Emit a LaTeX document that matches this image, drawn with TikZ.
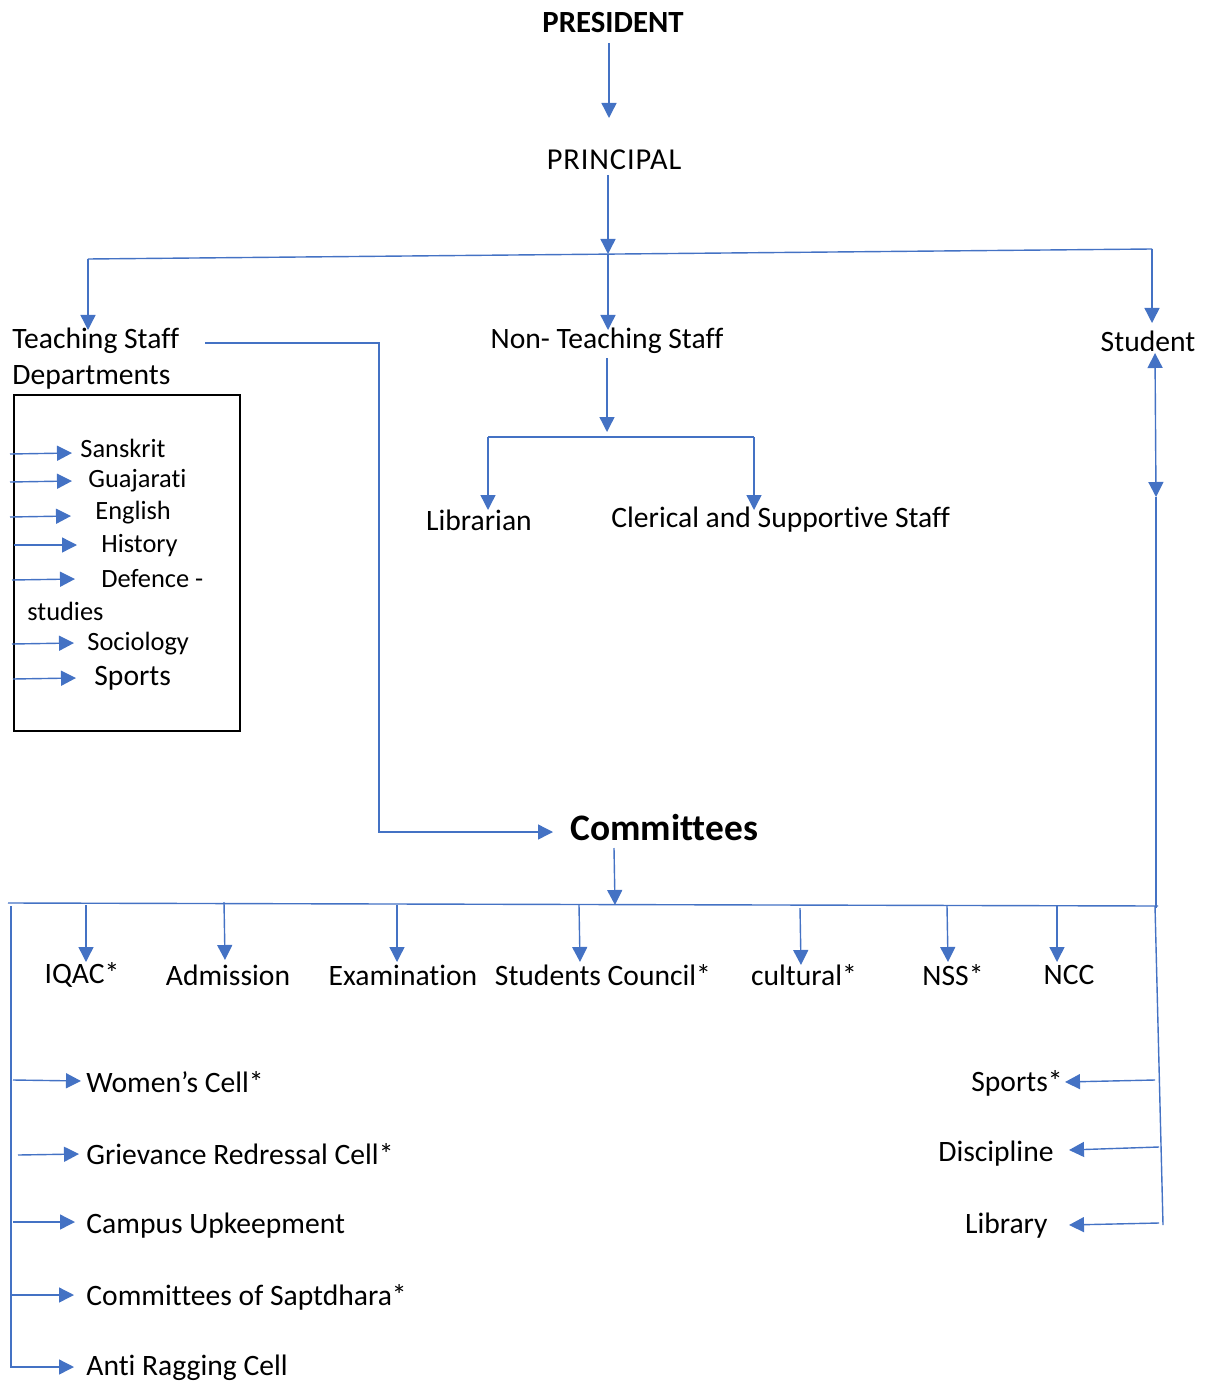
\documentclass[tikz,border=0pt]{standalone}
\usepackage{fontspec}
\setmainfont{Carlito}[Ligatures={NoCommon}]
\usetikzlibrary{arrows.meta}
\definecolor{lblue}{HTML}{4472C4}
\tikzset{
  conn/.style={draw=lblue, line width=0.7pt},
  arr/.style={conn, -{Triangle[length=7.5pt,width=7.5pt]}},
  darr/.style={conn, {Triangle[length=7.5pt,width=7.5pt]}-{Triangle[length=7.5pt,width=7.5pt]}},
  lbl/.style={inner sep=0pt, text=black, font=\fontsize{14.8}{17}\selectfont},
  dept/.style={inner sep=0pt, text=black, font=\fontsize{13.2}{16}\selectfont},
}
\begin{document}
\begin{tikzpicture}[x=0.5pt,y=-0.5pt]
\useasboundingbox (0,0) rectangle (1207,1385);

% ---------- top ----------
\node[lbl, font=\bfseries\fontsize{15.4}{17}\selectfont] (pres) at (613,23) {PRESIDENT};
\node[lbl, font=\fontsize{15.2}{17}\selectfont\addfontfeature{LetterSpace=3}] (prin) at (614,160) {PRINCIPAL};
\coordinate (presB) at (609,43);
\coordinate (prinT) at (609,118);
\draw[arr] (presB) -- (prinT);
\coordinate (prinB) at (608,175);
\coordinate (busT) at (608,254);
\draw[arr] (prinB) -- (busT);

\coordinate (busL) at (88,259);
\coordinate (busR) at (1152,249);
\draw[conn] (busL) -- (busR);

\node[lbl, anchor=west] (teach) at (12,341) {Teaching Staff};
\node[lbl, anchor=west] (deps) at (12,377) {Departments};
\node[lbl] (nonteach) at (607,341) {Non- Teaching Staff};
\node[lbl] (student) at (1148,341) {Student};

\coordinate (teachT) at (88,330);
\coordinate (nonT) at (608,330);
\coordinate (studT) at (1152,323);
\draw[arr] (busL) -- (teachT);
\draw[arr] (busT) -- (nonT);
\draw[arr] (busR) -- (studT);

% ---------- departments ----------
\node[draw=black, line width=1.1pt, inner sep=0pt, minimum width=113pt, minimum height=168pt, anchor=north west] (deptbox) at (13,394) {};

\node[dept, anchor=west] (d1) at (80,448) {Sanskrit};
\node[dept, anchor=west] (d2) at (88,481) {Guajarati};
\node[dept, anchor=west] (d3) at (95,513) {English};
\node[dept, anchor=west] (d4) at (101,546) {History};
\node[dept, anchor=west] (d5) at (101,579) {Defence -};
\node[dept, anchor=west] (d5b) at (27,611) {studies};
\node[dept, anchor=west] (d6) at (87,644) {Sociology};
\node[lbl, anchor=west] (d7) at (94,678) {Sports};

\draw[arr] (10,454) -- (72,453);
\draw[arr] (10,482) -- (72,481);
\draw[arr] (10,517) -- (71,516);
\draw[arr] (14,545) -- (77,545);
\draw[arr] (12,580) -- (75,579);
\draw[arr] (12,644) -- (74,643);
\draw[arr] (13,679) -- (76,678);

% ---------- non teaching ----------
\coordinate (ntB) at (607,358);
\coordinate (ntBus) at (607,437);
\coordinate (ntL) at (488,437);
\coordinate (ntR) at (754,437);
\draw[arr] (ntB) -- ([yshift=2.5pt]ntBus);
\draw[conn] (ntL) -- (ntR);
\node[lbl] (libr) at (479,520) {Librarian};
\node[lbl, anchor=west] (cler) at (611,520) {Clerical and Supportive Staff};
\draw[arr] (ntL) -- (488,510);
\draw[arr] (ntR) -- (754,510);

% ---------- student ----------
\coordinate (stB) at (1155,353);
\coordinate (stD) at (1156,497);
\coordinate (stBus) at (1156,908);
\draw[darr] (stB) -- (stD);
\draw[conn] (stD) -- (stBus);

% ---------- committees ----------
\coordinate (tsR) at (205,343);
\coordinate (elbow) at (379,832);
\coordinate (comL) at (553,832);
\draw[arr] (tsR) -| (elbow) -- (comL);
\node[inner sep=0pt, anchor=west, font=\bfseries\fontsize{18.7}{21}\selectfont] (comm) at (570,828) {Committees};
\coordinate (comB) at (614,848);
\coordinate (cbusL) at (8,903);
\coordinate (cbusR) at (1158,906);
\coordinate (cbusM) at (615,905);
\draw[arr] (comB) -- (cbusM);
\draw[conn] (cbusL) -- (cbusR);

\node[lbl] (c1) at (82,975) {IQAC*};
\node[lbl] (c2) at (228,975) {Admission};
\node[lbl] (c3) at (403,975) {Examination};
\node[lbl] (c4) at (603,975) {Students Council*};
\node[lbl] (c5) at (804,975) {cultural*};
\node[lbl] (c6) at (953,975) {NSS*};
\node[lbl] (c7) at (1069,975) {NCC};

\draw[arr] (86,905) -- (86,962);
\draw[arr] (224,902) -- (225,960);
\draw[arr] (397,905) -- (397,962);
\draw[arr] (579,905) -- (580,962);
\draw[arr] (800,908) -- (801,965);
\draw[arr] (947,906) -- (948,962);
\draw[arr] (1057,906) -- (1057,962);

% ---------- left column ----------
\coordinate (lvT) at (11,906);
\coordinate (lvB) at (11,1368);
\draw[conn] (lvT) -- (lvB);
\node[lbl, anchor=west] (l1) at (86,1082) {Women’s Cell*};
\node[lbl, anchor=west] (l2) at (86,1154) {Grievance Redressal Cell*};
\node[lbl, anchor=west] (l3) at (86,1226) {Campus Upkeepment};
\node[lbl, anchor=west] (l4) at (86,1297) {Committees of Saptdhara*};
\node[lbl, anchor=west] (l5) at (86,1368) {Anti Ragging Cell};
\draw[arr] (13,1080) -- (81,1081);
\draw[arr] (18,1155) -- (79,1154);
\draw[arr] (13,1222) -- (75,1222);
\draw[arr] (11,1295) -- (74,1295);
\draw[arr] (11,1367) -- (74,1367);

% ---------- right column ----------
\coordinate (rvT) at (1155,906);
\coordinate (rvB) at (1163,1225);
\draw[conn] (rvT) -- (rvB);
\node[lbl, anchor=east] (r1) at (1063,1083) {Sports*};
\node[lbl, anchor=east] (r2) at (1054,1154) {Discipline};
\node[lbl, anchor=east] (r3) at (1048,1226) {Library};
\draw[arr] (1155,1080) -- (1065,1082);
\draw[arr] (1159,1147) -- (1069,1150);
\draw[arr] (1159,1223) -- (1069,1225);
\end{tikzpicture}
\end{document}
